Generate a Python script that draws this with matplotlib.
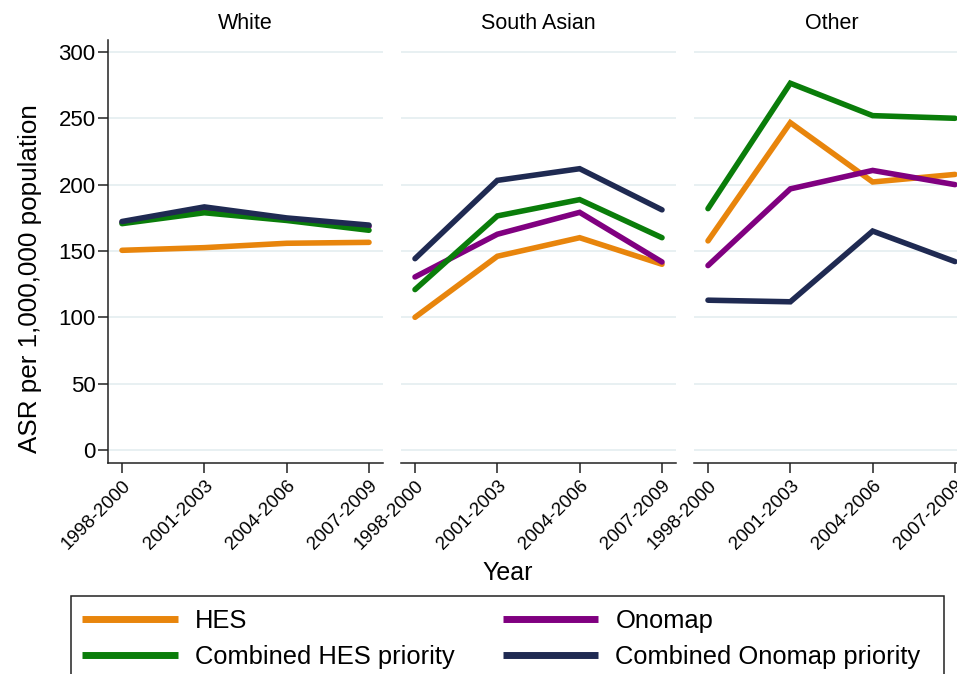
import matplotlib
matplotlib.use("Agg")
import matplotlib.pyplot as plt
from matplotlib.patches import Rectangle

plt.rcParams['font.family'] = ['Liberation Sans', 'DejaVu Sans']

# data
periodos = ['1998-2000', '2001-2003', '2004-2006', '2007-2009']
grupos = ['White', 'South Asian', 'Other']

hes = {
    'White': [150.5, 152.5, 155.8, 156.5],
    'South Asian': [100, 146, 160, 140],
    'Other': [157.6, 246.7, 202, 207.7],
}
onomap = {
    'White': [171.5, 182, 174, 168.5],
    'South Asian': [130.4, 162.6, 179.1, 141.7],
    'Other': [139, 196.8, 210.7, 200],
}
comb_hes = {
    'White': [170.6, 178.8, 173, 165.6],
    'South Asian': [120.9, 176.4, 188.7, 160],
    'Other': [181.9, 276.4, 252, 250],
}
comb_onomap = {
    'White': [172.2, 183.2, 174.9, 169.5],
    'South Asian': [144.2, 203.2, 212, 181],
    'Other': [112.9, 111.7, 165, 142],
}

series = [
    ('HES', hes, '#E8850C'),
    ('Onomap', onomap, '#800080'),
    ('Combined HES priority', comb_hes, '#0A7D0A'),
    ('Combined Onomap priority', comb_onomap, '#1F2A52'),
]

W, H = 957, 674
fig = plt.figure(figsize=(W / 100, H / 100), dpi=100)

izquierdas = [108, 401, 694]
ancho = 275
arriba, abajo = 40, 463

x = list(range(len(periodos)))
lineas = {}
for i, (grupo, izq) in enumerate(zip(grupos, izquierdas)):
    ax = fig.add_axes([izq / W, 1 - abajo / H, ancho / W, (abajo - arriba) / H])
    for nombre, datos, color in series:
        l, = ax.plot(x, datos[grupo], color=color, lw=4, solid_capstyle='round',
                     solid_joinstyle='miter', zorder=3)
        lineas[nombre] = l
    ax.set_xlim(-0.17, 3.17)
    ax.set_ylim(-9.8, 309)
    ax.set_yticks([0, 50, 100, 150, 200, 250, 300])
    ax.yaxis.grid(True, color='#e4eef0', lw=1.2, zorder=0)
    ax.set_axisbelow(True)
    ax.set_xticks(x)
    ax.set_xticklabels(periodos, rotation=45, ha='right', rotation_mode='anchor',
                       fontsize=13.5)
    ax.tick_params(axis='x', direction='out', length=7, width=1.1, color='#222222', pad=3)
    ax.set_title(grupo, fontsize=15.5, pad=8)
    for s in ['top', 'right']:
        ax.spines[s].set_visible(False)
    ax.spines['bottom'].set_color('#222222')
    ax.spines['bottom'].set_linewidth(1.1)
    if i == 0:
        ax.spines['left'].set_color('#222222')
        ax.spines['left'].set_linewidth(1.1)
        ax.tick_params(axis='y', direction='out', length=7, width=1.1,
                       color='#222222', labelsize=16, pad=2)
    else:
        ax.spines['left'].set_visible(False)
        ax.tick_params(axis='y', left=False, labelleft=False)

fig.text(30 / W, 1 - 279 / H, 'ASR per 1,000,000 population', rotation=90,
         ha='center', va='center', fontsize=18.7)
fig.text(508 / W, 1 - 573 / H, 'Year', ha='center', va='center', fontsize=18)

# marco de la leyenda (cortado por abajo como en la original)
fig.patches.append(Rectangle((71 / W, -0.1), (944 - 71) / W, 1 - 596 / H + 0.1,
                             transform=fig.transFigure, fill=False,
                             edgecolor='#222222', lw=1.1))

orden = ['HES', 'Combined HES priority', 'Onomap', 'Combined Onomap priority']
ley = fig.legend([lineas[n] for n in orden], orden, ncol=2, loc='upper left',
                 bbox_to_anchor=(72 / W, 1 - 599 / H), borderaxespad=0,
                 fontsize=18.4, frameon=False, handlelength=3.75,
                 handletextpad=0.66, borderpad=0.4, labelspacing=0.45,
                 columnspacing=1.88)
for h in ley.legend_handles:
    h.set_linewidth(5)
    h.set_solid_capstyle('butt')

fig.savefig('out.png', dpi=100)
